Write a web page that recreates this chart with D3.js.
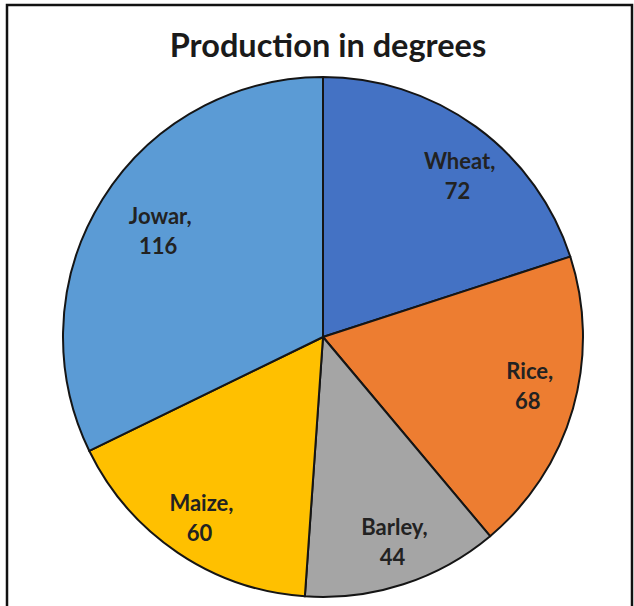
<!DOCTYPE html>
<html><head><meta charset="utf-8">
<script src="https://cdn.jsdelivr.net/npm/d3@7"></script>
<style>html,body{margin:0;padding:0;background:#fff;}svg{display:block;}</style>
</head><body>
<svg id="chart" width="634" height="606"></svg>
<script>
const categories = ["Wheat", "Rice", "Barley", "Maize", "Jowar"];
const values = [72, 68, 44, 60, 116];
const colors = ["#4472C4", "#ED7D31", "#A5A5A5", "#FFC000", "#5B9BD5"];
const title = "Production in degrees";

const svg = d3.select("#chart");

// frame
svg.append("rect").attr("x", 7).attr("y", 5).attr("width", 625).attr("height", 640)
  .attr("fill", "#fff").attr("stroke", "#111").attr("stroke-width", 2.5);

svg.append("text").attr("x", 328).attr("y", 57).attr("text-anchor", "middle")
  .attr("font-family", "Lato, 'Open Sans', sans-serif").attr("font-weight", "bold")
  .attr("font-size", 32.5).attr("fill", "#1a1a1a").text(title);

const cx = 323, cy = 337, R = 260;
const data = categories.map((c, i) => ({ name: c, value: values[i], color: colors[i] }));
const pie = d3.pie().sort(null).value(d => d.value);
const arc = d3.arc().innerRadius(0).outerRadius(R);
const labelArc = d3.arc().innerRadius(212).outerRadius(212);

const g = svg.append("g").attr("transform", `translate(${cx},${cy})`);
const arcs = pie(data);
g.selectAll("path").data(arcs).enter().append("path")
  .attr("d", arc).attr("fill", d => d.data.color)
  .attr("stroke", "#151515").attr("stroke-width", 2).attr("stroke-linejoin", "round");

const labelOffsets = { Wheat: [12, 12], Rice: [3, -8], Barley: [6, 4], Maize: [-3, 6], Jowar: [17, 7] };
const lbl = g.selectAll("text.lbl").data(arcs).enter().append("text").attr("class", "lbl")
  .attr("transform", d => {
    const c = labelArc.centroid(d), o = labelOffsets[d.data.name];
    return `translate(${c[0] + o[0]},${c[1] + o[1]})`;
  })
  .attr("text-anchor", "middle")
  .attr("font-family", "Lato, 'Open Sans', sans-serif").attr("font-weight", "bold")
  .attr("font-size", 22).attr("fill", "#222");
lbl.append("tspan").attr("x", 0).attr("y", -8).text(d => d.data.name + ",");
lbl.append("tspan").attr("x", -2).attr("y", 22).text(d => d.data.value);
</script>
</body></html>
